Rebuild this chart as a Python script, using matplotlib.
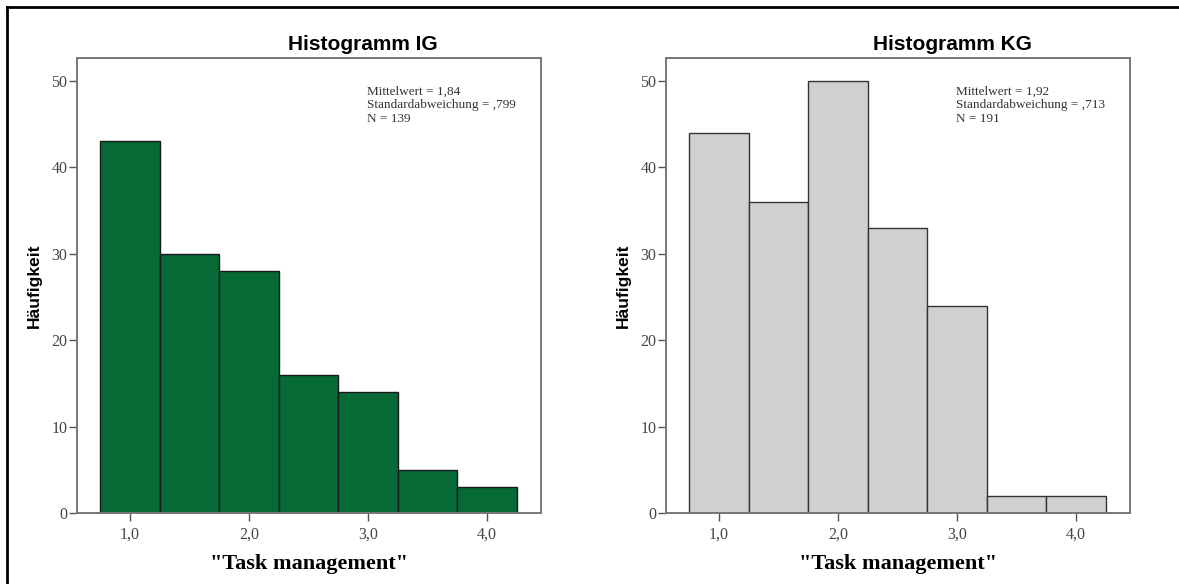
import matplotlib
matplotlib.use("Agg")
import matplotlib.pyplot as plt
from matplotlib.lines import Line2D

# bins of "Task management" (width 0,5)
bin_left = [0.75, 1.25, 1.75, 2.25, 2.75, 3.25, 3.75]
counts_ig = [43, 30, 28, 16, 14, 5, 3]
counts_kg = [44, 36, 50, 33, 24, 2, 2]

titles = ["Histogramm IG", "Histogramm KG"]
stats_ig = ["Mittelwert = 1,84", "Standardabweichung = ,799", "N = 139"]
stats_kg = ["Mittelwert = 1,92", "Standardabweichung = ,713", "N = 191"]
xtick_vals = [1, 2, 3, 4]
xtick_labels = ["1,0", "2,0", "3,0", "4,0"]
ytick_vals = [0, 10, 20, 30, 40, 50]

W, H = 1179, 584
fig = plt.figure(figsize=(W / 100, H / 100), dpi=100)

panels = [
    (77, counts_ig, "#066936", "#1a1a1a", titles[0], stats_ig),
    (666, counts_kg, "#d0d0d0", "#333333", titles[1], stats_kg),
]

for x0, counts, fc, ec, title, stats in panels:
    ax = fig.add_axes([x0 / W, (H - 513) / H, 464 / W, 455 / H])
    ax.bar(bin_left, counts, width=0.5, align="edge", color=fc,
           edgecolor=ec, linewidth=1.0, zorder=2)
    ax.set_xlim(0.555, 4.455)
    ax.set_ylim(0, 52.63)
    ax.set_xticks(xtick_vals)
    ax.set_xticklabels(xtick_labels)
    ax.set_yticks(ytick_vals)
    ax.set_yticklabels([str(v) for v in ytick_vals])
    for lab in ax.get_xticklabels() + ax.get_yticklabels():
        lab.set_fontfamily("Liberation Serif")
        lab.set_fontsize(11.5)
        lab.set_color("#444444")
    ax.tick_params(axis="both", direction="out", length=6, width=1.0,
                   color="#555555", top=False, right=False)
    ax.tick_params(axis="y", pad=1)
    ax.tick_params(axis="x", pad=4)
    for s in ax.spines.values():
        s.set_color("#777777")
        s.set_linewidth(1.4)

    ax.set_ylabel("Häufigkeit", fontfamily="Liberation Sans", fontweight="bold",
                  fontsize=12.5, labelpad=7)
    ax.set_xlabel('"Task management"', fontfamily="Liberation Serif",
                  fontweight="bold", fontsize=16, labelpad=8)

    # stats box text
    ax.text(0.625, 0.94, "\n".join(stats), transform=ax.transAxes,
            fontfamily="Liberation Serif", fontsize=9.5, color="#333333",
            va="top", ha="left", linespacing=1.2)

    fig.text((x0 + 286) / W, 1 - 44 / H, title, fontfamily="Liberation Sans",
             fontweight="bold", fontsize=15, ha="center", va="center")

# outer frame (left and top edge of the screenshot)
fig.add_artist(Line2D([7 / W, 7 / W], [0, 1 - 7 / H], transform=fig.transFigure,
                      color="black", linewidth=2))
fig.add_artist(Line2D([7 / W, 1], [1 - 7 / H, 1 - 7 / H], transform=fig.transFigure,
                      color="black", linewidth=2))

fig.savefig("out.png", dpi=100)
